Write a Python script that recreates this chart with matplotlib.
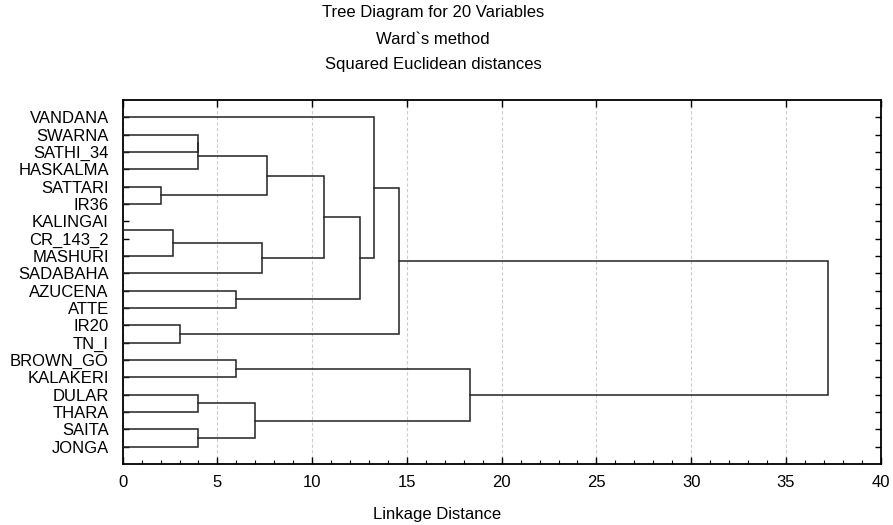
import matplotlib
matplotlib.use('Agg')
import matplotlib.pyplot as plt
from matplotlib.ticker import MultipleLocator

plt.rcParams['font.family'] = ['Liberation Sans', 'DejaVu Sans']

# leaves, top to bottom
labels = ['VANDANA', 'SWARNA', 'SATHI_34', 'HASKALMA', 'SATTARI', 'IR36',
          'KALINGAI', 'CR_143_2', 'MASHURI', 'SADABAHA', 'AZUCENA', 'ATTE',
          'IR20', 'TN_I', 'BROWN_GO', 'KALAKERI', 'DULAR', 'THARA', 'SAITA', 'JONGA']

# merges: (left, right, linkage distance) -> new cluster named c1, c2, ...
merges = [
    ('KALINGAI', 'CR_143_2', 0.0),   # c1
    ('SATTARI', 'IR36', 2.0),        # c2
    ('c1', 'MASHURI', 2.65),         # c3
    ('IR20', 'TN_I', 3.0),           # c4
    ('SWARNA', 'SATHI_34', 4.0),     # c5
    ('c5', 'HASKALMA', 4.0),         # c6
    ('DULAR', 'THARA', 4.0),         # c7
    ('SAITA', 'JONGA', 4.0),         # c8
    ('AZUCENA', 'ATTE', 6.0),        # c9
    ('BROWN_GO', 'KALAKERI', 6.0),   # c10
    ('c7', 'c8', 7.0),               # c11
    ('c3', 'SADABAHA', 7.33),        # c12
    ('c6', 'c2', 7.6),               # c13
    ('c13', 'c12', 10.64),           # c14
    ('c14', 'c9', 12.5),             # c15
    ('VANDANA', 'c15', 13.26),       # c16
    ('c16', 'c4', 14.6),             # c17
    ('c10', 'c11', 18.33),           # c18
    ('c17', 'c18', 37.2),            # c19
]

fig = plt.figure(figsize=(8.93, 5.25), dpi=100)
ax = fig.add_axes([0.1374, 0.1162, 0.8488, 0.6933])

# node positions (x = distance, y = row)
pos = {}
for i, name in enumerate(labels):
    pos[name] = (0.0, i)

for k, (a, b, h) in enumerate(merges):
    xa, ya = pos[a]
    xb, yb = pos[b]
    ax.plot([xa, h, h, xb], [ya, ya, yb, yb], color='#222222', lw=1.1,
            solid_joinstyle='miter', zorder=3)
    pos['c' + str(k + 1)] = (h, (ya + yb) / 2)

ax.set_xlim(0, 40)
ax.set_ylim(20, -1)
ax.set_yticks(range(len(labels)))
ax.set_yticklabels(labels, fontsize=12)
ax.xaxis.set_major_locator(MultipleLocator(5))
ax.xaxis.set_minor_locator(MultipleLocator(1))
ax.tick_params(axis='x', which='major', direction='in', length=5, width=1,
               top=True, labelsize=12, pad=8)
ax.tick_params(axis='x', which='minor', direction='in', length=3, width=0.8)
ax.tick_params(axis='y', direction='in', length=4, width=1, right=True, pad=10)
ax.grid(axis='x', which='major', color='#cccccc', linestyle=(0, (3, 2)), lw=0.8)
for s in ax.spines.values():
    s.set_linewidth(1.3)

fig.text(0.485, 1 - 12.7 / 525, 'Tree Diagram for 20 Variables', ha='center', va='center', fontsize=12)
fig.text(0.485, 1 - 39.3 / 525, 'Ward`s method', ha='center', va='center', fontsize=12)
fig.text(0.485, 1 - 65 / 525, 'Squared Euclidean distances', ha='center', va='center', fontsize=12)
fig.text(437 / 893, 1 - 515 / 525, 'Linkage Distance', ha='center', va='center', fontsize=12)

fig.savefig('out.png', dpi=100)
